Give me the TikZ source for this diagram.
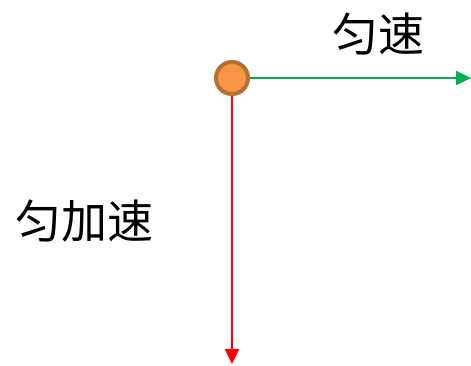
\documentclass[tikz,border=0pt]{standalone}
\usepackage{fontspec}
\newfontfamily\cjk{Noto Sans CJK SC}
\usetikzlibrary{arrows.meta}
\definecolor{ballfill}{HTML}{F79646}
\definecolor{ballring}{HTML}{B5712F}
\definecolor{greenline}{HTML}{00B050}
\tikzset{
  lbl/.style={font=\cjk\fontsize{46}{50}\selectfont, inner sep=0pt, text=black},
  arr/.style={line width=2.2pt, -{Triangle[length=15pt,width=14pt]}},
}
\begin{document}
\begin{tikzpicture}[x=1pt,y=-1pt]
\useasboundingbox (0,0) rectangle (471,365);
\coordinate (gend) at (471,78);
\coordinate (rend) at (232,364);
\draw[arr, greenline] (232,78) -- (gend);
\draw[arr, red] (232,78) -- (rend);
\node[circle, minimum size=32pt, inner sep=0pt, fill=ballfill, draw=ballring, line width=4pt] (ball) at (232,78) {};
\node[lbl] (t1) at (378,34) {匀速};
\node[lbl] (t2) at (85,221) {匀加速};
\end{tikzpicture}
\end{document}
